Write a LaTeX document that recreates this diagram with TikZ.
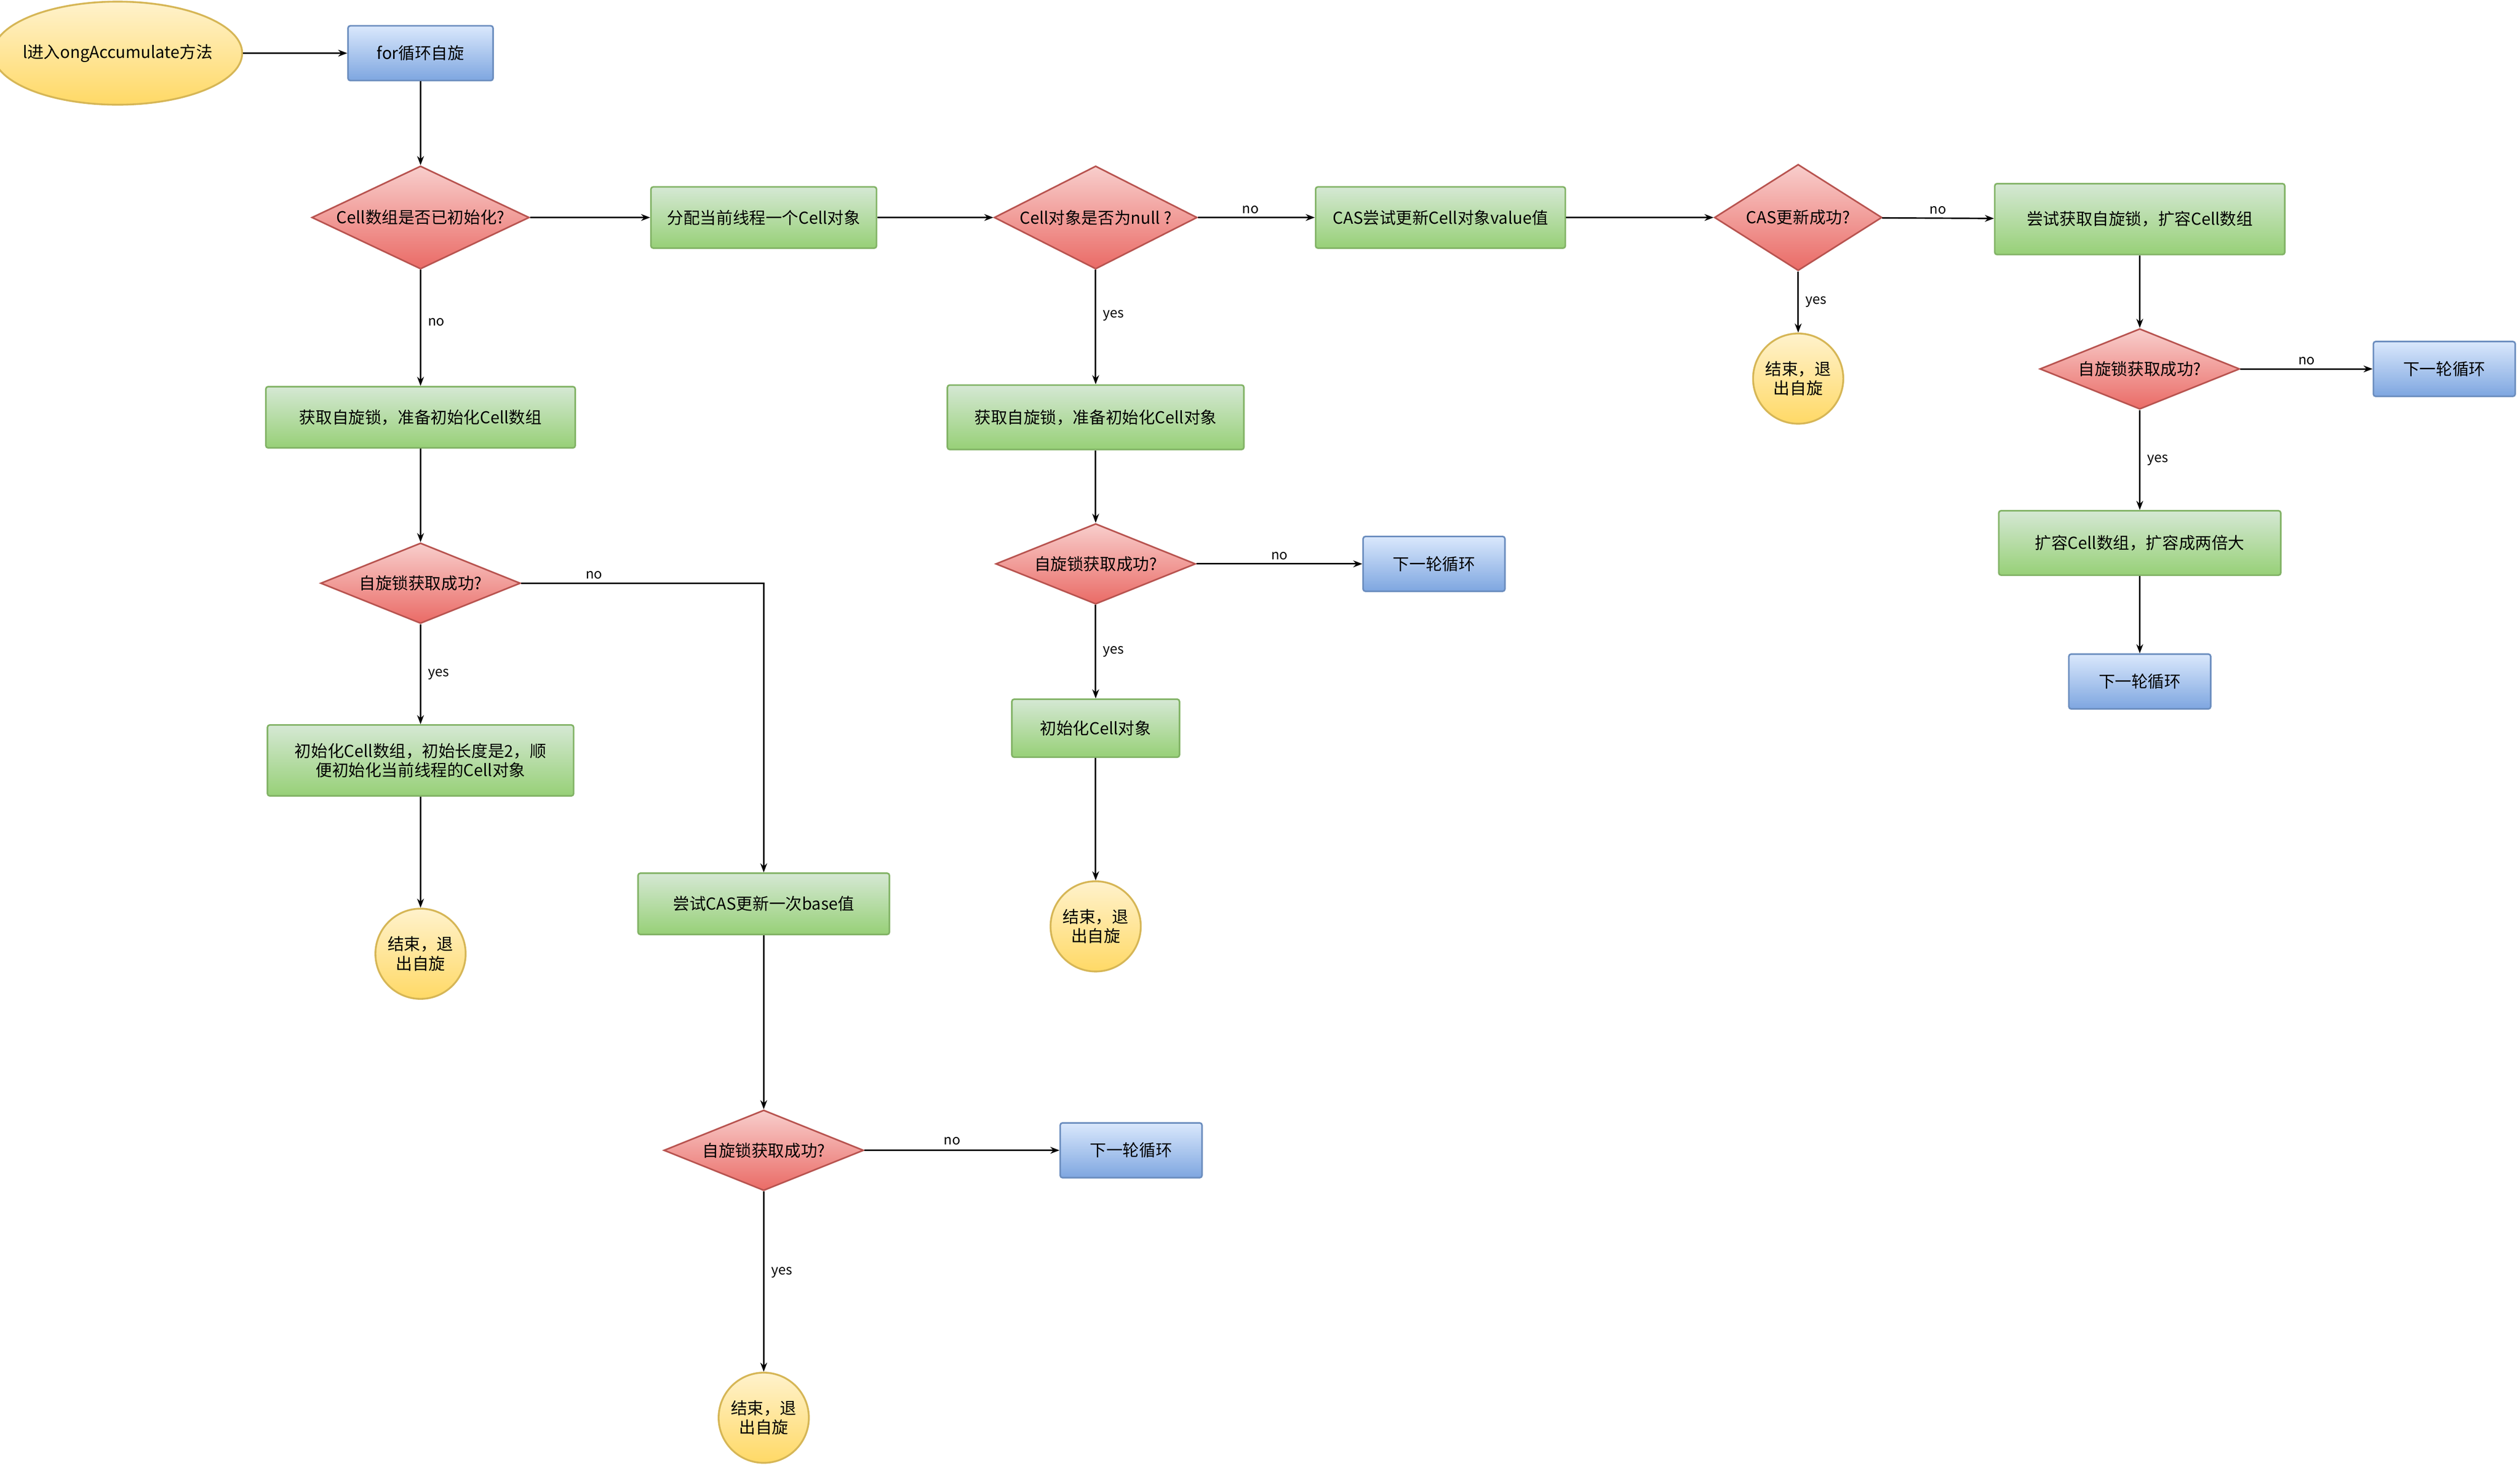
\documentclass[tikz,border=0pt]{standalone}
\usepackage{fontspec}
\setmainfont{Noto Sans CJK SC}
\usetikzlibrary{shapes.geometric,arrows.meta}
\begin{document}
\begin{tikzpicture}[x=0.05cm,y=-0.05cm,
  every node/.style={font=\fontsize{14.5}{17}\selectfont,align=center,inner sep=0pt},
  box/.style={rectangle,rounded corners=2pt,line width=1.4pt,minimum width=#1*0.05cm},
  gbox/.style={box=#1,draw={rgb,255:red,130;green,179;blue,102},top color={rgb,255:red,213;green,232;blue,212},bottom color={rgb,255:red,151;green,208;blue,119},minimum height=1.9cm},
  bbox/.style={box=#1,draw={rgb,255:red,108;green,142;blue,191},top color={rgb,255:red,218;green,232;blue,252},bottom color={rgb,255:red,126;green,166;blue,224},minimum height=1.7cm},
  dia/.style n args={2}{diamond,aspect=2,minimum width=#1*0.05cm,minimum height=#2*0.05cm,line width=1.4pt,draw={rgb,255:red,184;green,84;blue,80},top color={rgb,255:red,248;green,206;blue,204},bottom color={rgb,255:red,234;green,107;blue,102},inner sep=0pt},
  term/.style={ellipse,line width=1.6pt,draw={rgb,255:red,214;green,182;blue,86},top color={rgb,255:red,255;green,242;blue,204},bottom color={rgb,255:red,255;green,217;blue,102}},
  end/.style={term,circle,minimum size=2.8cm},
  arr/.style={-{Stealth[length=8pt,width=6pt]},line width=1.3pt},
  lab/.style={font=\fontsize{12}{14}\selectfont}]
\useasboundingbox (0,0) rectangle (1564,913);
\node[term,minimum width=7.25cm,minimum height=3.2cm,inner sep=-6pt] (start) at (73,33) {l进入ongAccumulate方法};
\node[bbox=90] (for) at (261,33) {for循环自旋};
\node[dia={135}{64}] (d1) at (261,135) {Cell数组是否已初始化?};
\node[gbox=140] (alloc) at (474,135) {分配当前线程一个Cell对象};
\node[dia={126}{64}] (d2) at (680,135) {Cell对象是否为null ?};
\node[gbox=155] (cas) at (894,135) {CAS尝试更新Cell对象value值};
\node[dia={104}{66}] (d3) at (1116,135) {CAS更新成功?};
\node[gbox=180,minimum height=2.2cm] (try) at (1328,136) {尝试获取自旋锁，扩容Cell数组};
\node[end] (e3) at (1116,235) {结束，退\\出自旋};
\node[dia={124}{50}] (d4) at (1328,229) {自旋锁获取成功?};
\node[bbox=88] (n4) at (1517,229) {下一轮循环};
\node[gbox=175,minimum height=2cm] (exp) at (1328,337) {扩容Cell数组，扩容成两倍大};
\node[bbox=88] (n5) at (1328,423) {下一轮循环};
\node[gbox=192] (gl1) at (261,259) {获取自旋锁，准备初始化Cell数组};
\node[dia={124}{50}] (d5) at (261,362) {自旋锁获取成功?};
\node[gbox=190,minimum height=2.2cm] (i1) at (261,472) {初始化Cell数组，初始长度是2，顺\\便初始化当前线程的Cell对象};
\node[end] (e1) at (261,592) {结束，退\\出自旋};
\node[gbox=156] (cb) at (474,561) {尝试CAS更新一次base值};
\node[dia={124}{50}] (d6) at (474,714) {自旋锁获取成功?};
\node[bbox=88] (n6) at (702,714) {下一轮循环};
\node[end] (e6) at (474,880) {结束，退\\出自旋};
\node[gbox=184,minimum height=2cm] (gl2) at (680,259) {获取自旋锁，准备初始化Cell对象};
\node[dia={124}{50}] (d7) at (680,350) {自旋锁获取成功?};
\node[bbox=88] (n7) at (890,350) {下一轮循环};
\node[gbox=104,minimum height=1.8cm] (ic) at (680,452) {初始化Cell对象};
\node[end] (e7) at (680,575) {结束，退\\出自旋};
\draw[arr] (start) -- (for);
\draw[arr] (for) -- (d1);
\draw[arr] (d1) -- (alloc);
\draw[arr] (alloc) -- (d2);
\draw[arr] (d1) -- node[lab,right=6pt,pos=0.45]{no} (gl1);
\draw[arr] (gl1) -- (d5);
\draw[arr] (d5) -- node[lab,right=6pt]{yes} (i1);
\draw[arr] (i1) -- (e1);
\coordinate (c5) at (474,362);
\draw[arr] (d5) -- node[lab,above=3pt,pos=0.3]{no} (c5) -- (cb);
\draw[arr] (cb) -- (d6);
\draw[arr] (d6) -- node[lab,above=4pt,pos=0.45]{no} (n6);
\draw[arr] (d6) -- node[lab,right=6pt,pos=0.45]{yes} (e6);
\draw[arr] (d2) -- node[lab,above=3pt,pos=0.45]{no} (cas);
\draw[arr] (d2) -- node[lab,right=6pt,pos=0.4]{yes} (gl2);
\draw[arr] (gl2) -- (d7);
\draw[arr] (d7) -- node[lab,above=3pt]{no} (n7);
\draw[arr] (d7) -- node[lab,right=6pt]{yes} (ic);
\draw[arr] (ic) -- (e7);
\draw[arr] (cas) -- (d3);
\draw[arr] (d3) -- node[lab,above=3pt]{no} (try);
\draw[arr] (d3) -- node[lab,right=6pt]{yes} (e3);
\draw[arr] (try) -- (d4);
\draw[arr] (d4) -- node[lab,above=3pt]{no} (n4);
\draw[arr] (d4) -- node[lab,right=6pt]{yes} (exp);
\draw[arr] (exp) -- (n5);
\end{tikzpicture}
\end{document}
